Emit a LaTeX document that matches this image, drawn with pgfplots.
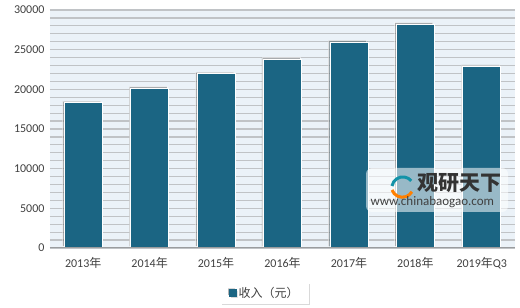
\documentclass[border=0pt]{standalone}
\usepackage{pgfplots}
\pgfplotsset{compat=1.18}
\usepackage{fontspec}
\setmainfont{Carlito}
\newfontfamily\cjk{Noto Sans CJK SC}
\usetikzlibrary{shadows}
\definecolor{barcol}{HTML}{1B6583}
\definecolor{bgcol}{HTML}{EBF2F8}
\definecolor{gridcol}{HTML}{C0C3C6}
\definecolor{txtcol}{HTML}{404040}
\begin{document}
\begin{tikzpicture}
\path[use as bounding box] (0,0) rectangle (520pt,308pt);
\begin{axis}[
  at={(50pt,60pt)}, anchor=south west,
  width=465pt, height=238pt, scale only axis,
  xmin=-0.5, xmax=6.5, ymin=0, ymax=30000,
  axis background/.style={fill=bgcol},
  axis line style={draw=none},
  axis x line*=bottom,
  xtick=data,
  xticklabels={2013{\cjk 年},2014{\cjk 年},2015{\cjk 年},2016{\cjk 年},2017{\cjk 年},2018{\cjk 年},2019{\cjk 年}Q3},
  ytick={0,5000,...,30000},
  minor ytick={0,1000,...,30000},
  ymajorgrids, yminorgrids,
  major grid style={draw=gridcol, line width=1.2pt},
  minor grid style={draw=gridcol, line width=1.2pt},
  major tick length=0pt, minor tick length=0pt,
  tick label style={font=\fontsize{12}{14}\selectfont, text=txtcol},
  /pgf/number format/assume math mode=true,
  /pgf/number format/1000 sep={},
  scaled y ticks=false,
  yticklabel style={xshift=-2pt},
  xticklabel style={yshift=-6pt},
  ybar, bar width=38pt,
  legend style={at={(0.462,-0.189)}, anchor=center, draw=none, fill=white,
    drop shadow={shadow xshift=1.5pt, shadow yshift=-1.5pt, opacity=0.3},
    font=\cjk\fontsize{12}{14}\selectfont, text=txtcol,
    inner xsep=8pt, inner ysep=3pt},
  legend image code/.code={\fill[barcol] (0pt,-3.5pt) rectangle (7pt,3.5pt);},
]
\addplot[fill=barcol, draw=white, line width=0.8pt,
  drop shadow={shadow xshift=-1.5pt, shadow yshift=1.5pt, opacity=0.5, fill=black!60}]
  coordinates {(0,18311) (1,20167) (2,21966) (3,23821) (4,25974) (5,28228) (6,22882)};
\addlegendentry{收入（元）}
\draw[gridcol!80!black, line width=1.2pt] (rel axis cs:0,0) -- (rel axis cs:1,0);
\end{axis}
\fill[white, opacity=0.55, rounded corners=6pt] (366pt,96pt) rectangle (508pt,140pt);
% simple logo swirl
\draw[orange, line width=3pt] (392pt,118pt) arc (200:330:11pt);
\draw[barcol!70!cyan, line width=3pt] (392pt,122pt) arc (170:40:11pt);
\node[anchor=west, font=\cjk\bfseries\fontsize{21}{22}\selectfont, text=black!80] at (414pt,125pt) {观研天下};
\node[anchor=west, font=\fontsize{13}{14}\selectfont, text=black!75] at (367pt,106pt) {www.chinabaogao.com};
\end{tikzpicture}
\end{document}
